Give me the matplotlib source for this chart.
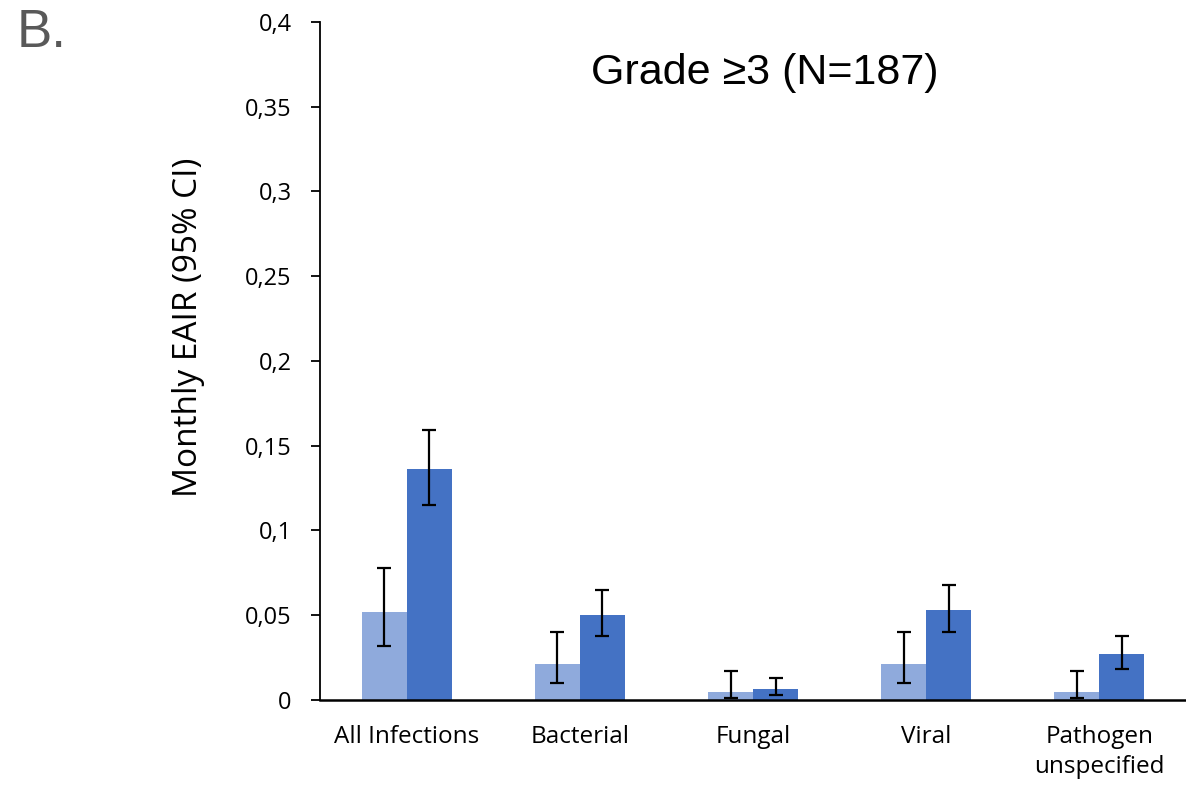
import numpy as np
import matplotlib
matplotlib.use("Agg")
import matplotlib.pyplot as plt

# ─────────────────────────────────────────────
# DATOS
# ─────────────────────────────────────────────
categories = ["All Infections", "Bacterial", "Fungal", "Viral", "Pathogen\nunspecified"]

light_vals = [0.052, 0.021, 0.005, 0.021, 0.005]
light_lo   = [0.032, 0.010, 0.001, 0.010, 0.001]
light_hi   = [0.078, 0.040, 0.017, 0.040, 0.017]

dark_vals  = [0.136, 0.050, 0.0065, 0.053, 0.027]
dark_lo    = [0.115, 0.038, 0.003, 0.040, 0.018]
dark_hi    = [0.159, 0.065, 0.013, 0.068, 0.038]

ytick_vals   = [0, 0.05, 0.1, 0.15, 0.2, 0.25, 0.3, 0.35, 0.4]
ytick_labels = ["0", "0,05", "0,1", "0,15", "0,2", "0,25", "0,3", "0,35", "0,4"]

LIGHT = "#8FAADC"
DARK  = "#4472C4"
CAL   = ["Open Sans", "DejaVu Sans"]
ARIAL = ["Liberation Sans", "DejaVu Sans"]

# ─────────────────────────────────────────────
# GRÁFICA
# ─────────────────────────────────────────────
fig = plt.figure(figsize=(11.86, 7.96), dpi=100)
ax = fig.add_axes([0.27, 0.1206, 0.73, 0.8518])

x = np.arange(len(categories))
w = 0.26

lv, dv = np.array(light_vals), np.array(dark_vals)
err_l = [lv - np.array(light_lo), np.array(light_hi) - lv]
err_d = [dv - np.array(dark_lo), np.array(dark_hi) - dv]

ax.bar(x - w / 2, lv, w, color=LIGHT, zorder=2)
ax.bar(x + w / 2, dv, w, color=DARK, zorder=2)
ax.errorbar(x - w / 2, lv, yerr=err_l, fmt="none", ecolor="black",
            elinewidth=1.6, capsize=4.7, capthick=1.6, zorder=3)
ax.errorbar(x + w / 2, dv, yerr=err_d, fmt="none", ecolor="black",
            elinewidth=1.6, capsize=4.7, capthick=1.6, zorder=3)

ax.set_xlim(-0.5, len(categories) - 0.5)
ax.set_ylim(0, 0.4)

ax.set_yticks(ytick_vals)
ax.set_yticklabels(ytick_labels, family=CAL, fontsize=17)
ax.set_xticks(x)
ax.set_xticklabels(categories, family=CAL, fontsize=17.5, linespacing=1.35)
ax.tick_params(axis="y", direction="out", length=6.5, width=1.3, pad=14)
ax.tick_params(axis="x", length=0, pad=18)

for s in ["top", "right"]:
    ax.spines[s].set_visible(False)
ax.spines["left"].set_linewidth(1.3)
ax.spines["bottom"].set_linewidth(1.8)

ax.set_ylabel("Monthly EAIR (95% CI)", family=CAL, fontsize=24)
ax.yaxis.set_label_coords(-0.133, 0.549)

ax.text(0.514, 0.925, "Grade ≥3 (N=187)", transform=ax.transAxes,
        ha="center", va="center", family=ARIAL, fontsize=31)

fig.text(0.014, 0.958, "B.", family=ARIAL, fontsize=38, color="#595959",
         ha="left", va="center")

fig.savefig("out.png", dpi=100)
